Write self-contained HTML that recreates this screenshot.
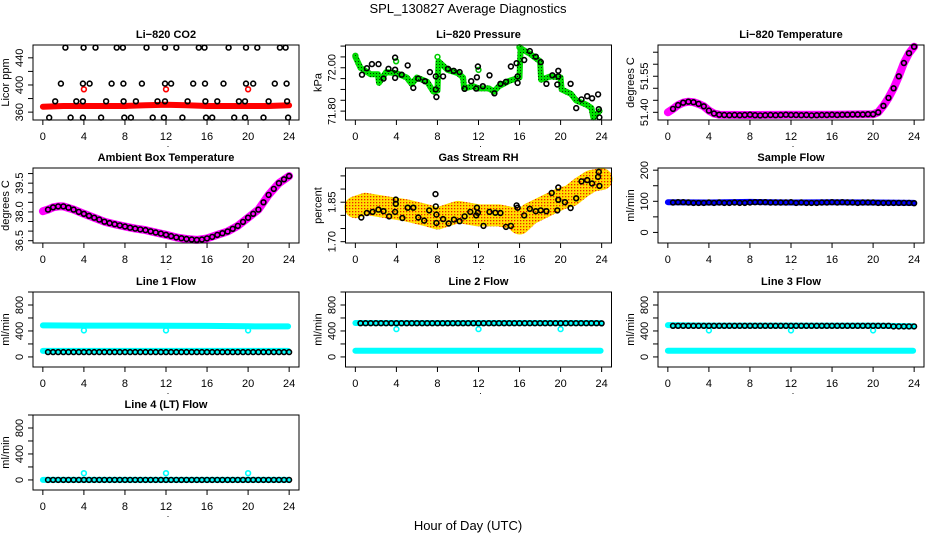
<!DOCTYPE html>
<html><head><meta charset="utf-8">
<style>
body{margin:0;background:#fff}
svg{display:block;font-family:"Liberation Sans",sans-serif}
.t{font-weight:bold;font-size:11px}
.tk{font-size:11px}
</style></head>
<body>
<svg id="chart" width="936" height="540" viewBox="0 0 936 540" xmlns="http://www.w3.org/2000/svg">
<defs>
<pattern id="gpat" width="3" height="3" patternUnits="userSpaceOnUse"><rect width="3" height="3" fill="#00e000"/><rect x="1" y="1" width="1" height="1" fill="#003300"/></pattern>
<pattern id="rhpat" width="3" height="3" patternUnits="userSpaceOnUse"><rect width="3" height="3" fill="#ffe000"/><rect x="1" y="1" width="1.3" height="1.3" fill="#ee2200"/></pattern>
</defs>
<text x="468" y="13" text-anchor="middle" font-size="13">SPL_130827  Average Diagnostics</text>
<text x="468" y="530" text-anchor="middle" font-size="13">Hour of Day (UTC)</text>
</svg>
<script>
// ---- data ----
const H48=[0.5,1,1.5,2,2.5,3,3.5,4,4.5,5,5.5,6,6.5,7,7.5,8,8.5,9,9.5,10,10.5,11,11.5,12,12.5,13,13.5,14,14.5,15,15.5,16,16.5,17,17.5,18,18.5,19,19.5,20,20.5,21,21.5,22,22.5,23,23.5,24];
const X_TICKS=[0,4,8,12,16,20,24];
// CO2
const CO2_LH=[0,2,4,6,8,10,12,14,16,18,20,22,24];
const CO2_LV=[368,369,369,369,369,370,371,370,369,369,369,369,370];
const CO2_BH=[2.2,3.97,5.13,7.2,7.8,10.1,11.9,13.0,15.2,15.75,18.1,19.8,20.9,23.1,23.65,1.76,3.9,4.56,6.7,7.85,9.65,11.9,12.5,14.65,15.8,17.6,19.8,20.5,22.6,23.75,1.2,3.26,3.9,6.16,7.87,9.07,11.17,11.9,14.1,15.84,17.0,19.1,19.7,22.0,23.8,0.62,2.7,3.9,5.68,7.94,8.58,10.7,11.8,13.6,15.9,16.5,18.65,19.7,21.5,23.9];
const CO2_BV=[455,455,455,455,455,455,455,455,455,455,455,455,455,455,455,402,402,402,402,402,402,402,402,402,402,402,402,402,402,402,376,376,376,376,376,376,376,376,376,376,376,376,376,376,376,352,352,352,352,352,352,352,352,352,352,352,352,352,352,352];
const CO2_OH=[4,12,20];
const CO2_OV=[393.7,393.7,393.7];
// Pressure
const PRES_GH=[0,0.5,1.5,2.2,2.3,3,4,5,5.5,6,7,7.6,8,8.1,9,10,10.5,10.6,11.5,12,13,13.5,14,15,16,16.1,17,18,18.1,19,20,20.1,21,21.5,22.5,23,23.2,23.8];
const PRES_GV=[72.05,72.0,71.97,71.97,71.93,71.98,71.975,71.955,71.925,71.955,71.935,71.89,71.895,72.03,71.99,71.975,71.955,71.905,71.915,71.905,71.905,71.89,71.915,71.94,71.955,72.09,72.065,72.03,71.945,71.96,71.955,71.9,71.88,71.85,71.83,71.815,71.77,71.80];
const PRES_BH=[0.65,1.13,1.61,2.26,2.74,3.23,3.87,3.87,3.87,4.52,5.1,5.65,6.13,6.78,7.26,7.84,7.9,7.84,8.55,9.03,9.58,10.16,10.65,11.29,11.78,11.84,11.94,12.42,13.07,13.55,14.13,14.68,15.16,15.71,15.81,15.81,16.45,17.0,17.58,18.07,18.62,19.2,19.78,19.68,19.78,20.97,21.52,22.04,22.59,23.07,23.65,23.72,23.78];
const PRES_BV=[71.968,71.998,72.017,72.017,71.95,71.995,71.991,72.047,71.953,71.968,72.011,71.907,71.95,71.938,71.98,71.96,71.865,71.9,71.96,71.995,71.986,71.98,71.903,71.938,71.904,71.956,72.006,71.915,71.965,71.882,71.926,71.935,72.006,72.021,71.93,71.96,72.036,72.077,72.051,72.026,71.926,71.965,71.986,71.923,71.96,71.926,71.814,71.854,71.869,71.859,71.877,71.809,71.771];
const PRES_OH=[0,3.97,8.0,12.0,16.0];
const PRES_OV=[72.055,72.03,72.05,71.99,72.095];
// Li-820 temperature
const TEMP_LH=[0,0.5,1,1.5,2,2.5,3,3.5,4,4.5,5,8,12,16,20,20.5,21,21.5,22,22.5,23,23.5,24];
const TEMP_LV=[51.40,51.414,51.43,51.44,51.444,51.442,51.435,51.425,51.407,51.395,51.39,51.389,51.39,51.39,51.392,51.40,51.427,51.46,51.50,51.55,51.605,51.646,51.673];
const TEMP_BV=[51.414,51.43,51.44,51.444,51.442,51.435,51.425,51.407,51.395,51.39,51.389,51.388,51.389,51.388,51.389,51.390,51.388,51.387,51.388,51.389,51.388,51.389,51.390,51.389,51.389,51.388,51.389,51.387,51.388,51.389,51.389,51.390,51.389,51.390,51.390,51.391,51.391,51.391,51.392,51.392,51.40,51.427,51.46,51.50,51.55,51.605,51.646,51.673];
// Ambient box
const AMB_LH=[0,0.5,1,1.5,2,3,4,5,6,7,8,9,10,11,12,13,14,15,16,17,18,19,20,21,22,23,24];
const AMB_LV=[38.04,38.12,38.24,38.29,38.29,38.12,37.9,37.7,37.49,37.36,37.24,37.13,37.05,36.93,36.81,36.67,36.59,36.54,36.62,36.8,36.98,37.27,37.7,38.12,38.89,39.5,39.87];
const AMB_BV=[38.12,38.24,38.29,38.29,38.22,38.12,38.0,37.9,37.8,37.7,37.6,37.49,37.42,37.36,37.3,37.24,37.18,37.13,37.09,37.05,36.99,36.93,36.87,36.81,36.74,36.67,36.63,36.59,36.56,36.54,36.56,36.62,36.70,36.80,36.89,36.98,37.12,37.27,37.48,37.7,37.9,38.12,38.5,38.89,39.2,39.5,39.7,39.87];
// Gas stream RH
const RH_LH=[0,1,3,5,7,8,10,12,14,15.5,16,17,18,19,20,21,22,23,24];
const RH_LV=[1.831,1.844,1.831,1.819,1.8,1.788,1.813,1.8,1.8,1.788,1.769,1.806,1.825,1.844,1.863,1.875,1.906,1.931,1.938];
const RH_BH=[0.58,1.13,1.68,2.26,2.74,3.29,3.87,3.94,3.94,4.58,5.1,5.65,6.13,6.71,7.2,7.81,7.84,7.9,7.9,8.55,9.1,9.61,10.16,10.65,11.2,11.78,11.84,11.94,12.49,13.07,13.65,14.13,14.68,15.16,15.71,15.81,16.45,17.0,17.58,18.07,18.62,19.13,19.68,19.78,19.78,20.42,20.97,21.52,22.04,22.59,23.07,23.65,23.72,23.78];
const RH_BV=[1.792,1.809,1.813,1.822,1.816,1.796,1.813,1.844,1.860,1.79,1.829,1.829,1.792,1.78,1.819,1.881,1.834,1.803,1.771,1.786,1.769,1.784,1.778,1.796,1.813,1.8,1.829,1.81,1.76,1.813,1.81,1.809,1.756,1.76,1.838,1.829,1.8,1.825,1.816,1.819,1.816,1.885,1.819,1.906,1.859,1.85,1.828,1.865,1.929,1.934,1.921,1.946,1.965,1.912];
// Sample flow
const SF_LH=[0,4,8,12,16,20,24];
const SF_LV=[97,96,98,96,97,96,95];
const SF_BV=[96,97,97,96,95,95,95,96,95,96,95,95,96,95,95,96,97,97,97,96,96,96,96,97,95,96,95,95,95,96,96,97,96,97,96,96,95,96,96,96,95,95,95,95,95,95,95,94];
// Line flows (cyan bands, outliers, black points)
const FLOW_LH=[0,4,8,12,16,20,23.9];
const L1_UP=[485,482,482,480,478,472,470];
const L1_LO=[93,93,93,93,93,93,93];
const L1_BV=[75,75,75,75,75,75,75,75,75,75,75,75,75,75,75,75,75,75,75,75,75,75,75,75,75,75,75,75,75,75,75,75,75,75,75,75,75,75,75,75,75,75,75,75,75,75,75,75];
const L2_UP=[522,522,522,522,522,522,522];
const L2_LO=[94,94,96,94,96,94,94];
const L2_BV=[520,520,520,520,520,520,520,520,520,520,520,520,520,520,520,520,520,520,520,520,520,520,520,520,520,520,520,520,520,520,520,520,520,520,520,520,520,520,520,520,520,520,520,520,520,520,520,518];
const L3_UP=[490,482,482,482,482,482,472];
const L3_LO=[94,94,96,94,96,94,94];
const L3_BV=[480,480,480,480,480,480,480,480,480,480,480,480,480,480,480,480,480,480,480,480,480,480,480,480,480,480,480,480,480,480,480,480,480,480,480,480,480,480,480,480,480,480,480,470,470,470,470,470];
const L4_UP=[0,0,0,0,0,0,0];
const L4_BV=[0,0,0,0,0,0,0,0,0,0,0,0,0,0,0,0,0,0,0,0,0,0,0,0,0,0,0,0,0,0,0,0,0,0,0,0,0,0,0,0,0,0,0,0,0,0,0,0];
const OUT_H=[4,12,20];
const L1_OV=[408,408,408];
const L2_OV=[429,429,429];
const L3_OV=[408,408,408];
const L4_OV=[104,104,104];

// ---- layout ----
const svg=document.getElementById('chart');
const NS='http://www.w3.org/2000/svg';
const COLS=[33,345.5,658], ROWS=[45,168,292,415], PW=266, PH=75;
function mk(tag,attrs,parent){const e=document.createElementNS(NS,tag);for(const k in attrs)e.setAttribute(k,attrs[k]);(parent||svg).appendChild(e);return e;}

function panel(cfg){
  const L=COLS[cfg.c],T=ROWS[cfg.r],R=L+PW,B=T+PH;
  const g=mk('g',{});
  
  
  const sx=v=>L+(v+0.96)/25.92*PW;
  const sy=v=>B-(v-cfg.dom[0])/(cfg.dom[1]-cfg.dom[0])*PH;
  const tt=mk('text',{x:L+PW/2,y:T-7,'text-anchor':'middle',class:'t'},g);
  tt.textContent=cfg.title;
  
  
  const xa=mk('g',{},g);
  
  
  mk('line',{x1:sx(0),x2:sx(24),y1:B,y2:B,stroke:'#000'},xa);
  X_TICKS.forEach(v=>{
    mk('line',{x1:sx(v),x2:sx(v),y1:B,y2:B+5,stroke:'#000'},xa);
    const t=mk('text',{x:sx(v),y:B+20,'text-anchor':'middle',class:'tk'},xa);
    t.textContent=v;
    
    
  });
  const dot=mk('text',{x:L+PW/2+2,y:B+27,'text-anchor':'middle','font-size':'9'},xa);
  dot.textContent='.';
  
  
  const ya=mk('g',{},g);
  
  
  cfg.ticks.forEach(v=>{mk('line',{x1:L-5,x2:L,y1:sy(v),y2:sy(v),stroke:'#000'},ya);});
  cfg.labels.forEach((v,i)=>{
    const x=L-10,y=sy(v);
    const t=mk('text',{x:x,y:y,'text-anchor':'middle',class:'tk',transform:`rotate(-90 ${x} ${y})`},ya);
    t.textContent=cfg.labelText[i];
    
    
  });
  const yl=mk('text',{x:L-24,y:T+PH/2,'text-anchor':'middle',class:'tk',transform:`rotate(-90 ${L-24} ${T+PH/2})`},g);
  yl.textContent=cfg.ylab;
  
  
  const plot=mk('g',{},g);
  
  
  cfg.draw(plot,sx,sy);
  const box=mk('rect',{x:L,y:T,width:PW,height:PH,fill:'none',stroke:'#000'},g);
  
  
}
function band(g,sx,sy,xs,ys,stroke,w,name){
  const p=mk('polyline',{points:xs.map((x,i)=>sx(x).toFixed(1)+','+sy(ys[i]).toFixed(1)).join(' '),fill:'none',stroke:stroke,'stroke-width':w,'stroke-linejoin':'round','stroke-linecap':'round'},g);
  
  
}
function pts(g,sx,sy,xs,ys,col,name,sw){
  const gg=mk('g',{},g);
  
  
  xs.forEach((x,i)=>{
    const c=mk('circle',{cx:sx(x).toFixed(1),cy:sy(ys[i]).toFixed(1),r:2.4,fill:'none',stroke:col,'stroke-width':sw||1.6},gg);
    
    
  });
}
const step=(a,b,s)=>{const o=[];for(let v=a;v<=b+1e-9;v+=s)o.push(+v.toFixed(3));return o;};

panel({c:0,r:0,name:'co2',title:'Li\u2212820 CO2',ylab:'Licor ppm',dom:[348.4,458.9],ticks:[360,380,400,420,440],labels:[360,400,440],labelText:['360','400','440'],
 draw:(g,sx,sy)=>{band(g,sx,sy,CO2_LH,CO2_LV,'#ff0000',6,'co2-red-series');pts(g,sx,sy,CO2_OH,CO2_OV,'#ff0000','co2-red-outliers');pts(g,sx,sy,CO2_BH,CO2_BV,'#000','co2-black-points');}});
panel({c:1,r:0,name:'pressure',title:'Li\u2212820 Pressure',ylab:'kPa',dom:[71.759,72.105],ticks:step(71.80,72.10,0.05),labels:[71.80,72.00],labelText:['71.80','72.00'],
 draw:(g,sx,sy)=>{band(g,sx,sy,PRES_GH,PRES_GV,'url(#gpat)',6,'pressure-green-series');pts(g,sx,sy,PRES_OH,PRES_OV,'#00cc00','pressure-green-outliers');pts(g,sx,sy,PRES_BH,PRES_BV,'#000','pressure-black-points');}});
panel({c:2,r:0,name:'li820-temp',title:'Li\u2212820 Temperature',ylab:'degrees C',dom:[51.368,51.68],ticks:step(51.40,51.65,0.05),labels:[51.40,51.55],labelText:['51.40','51.55'],
 draw:(g,sx,sy)=>{band(g,sx,sy,TEMP_LH,TEMP_LV,'#ff00ff',8,'temp-magenta-series');pts(g,sx,sy,H48,TEMP_BV,'#000','temp-black-points');}});
panel({c:0,r:1,name:'ambient-temp',title:'Ambient Box Temperature',ylab:'degrees C',dom:[36.38,40.29],ticks:step(36.5,40,0.5),labels:[36.5,38.0,39.5],labelText:['36.5','38.0','39.5'],
 draw:(g,sx,sy)=>{band(g,sx,sy,AMB_LH,AMB_LV,'#ff00ff',8,'ambient-magenta-series');pts(g,sx,sy,H48,AMB_BV,'#000','ambient-black-points');}});
panel({c:1,r:1,name:'rh',title:'Gas Stream RH',ylab:'percent',dom:[1.695,1.98],ticks:step(1.70,1.95,0.05),labels:[1.70,1.85],labelText:['1.70','1.85'],
 draw:(g,sx,sy)=>{band(g,sx,sy,RH_LH,RH_LV,'url(#rhpat)',22,'rh-orange-series');pts(g,sx,sy,RH_BH,RH_BV,'#000','rh-black-points');}});
panel({c:2,r:1,name:'sample-flow',title:'Sample Flow',ylab:'ml/min',dom:[-34,207],ticks:[0,50,100,150,200],labels:[0,100,200],labelText:['0','100','200'],
 draw:(g,sx,sy)=>{band(g,sx,sy,SF_LH,SF_LV,'#0000ff',6,'sample-blue-series');pts(g,sx,sy,H48,SF_BV,'#000','sample-black-points');}});
const FT=[0,200,400,600,800,1000];
panel({c:0,r:2,name:'line1-flow',title:'Line 1 Flow',ylab:'ml/min',dom:[-155,1000],ticks:FT,labels:[0,400,800],labelText:['0','400','800'],
 draw:(g,sx,sy)=>{band(g,sx,sy,FLOW_LH,L1_UP,'#00ffff',6,'line1-cyan-upper');band(g,sx,sy,FLOW_LH,L1_LO,'#00ffff',6,'line1-cyan-lower');pts(g,sx,sy,OUT_H,L1_OV,'#00ffff','line1-cyan-outliers');pts(g,sx,sy,H48,L1_BV,'#000','line1-black-points');}});
panel({c:1,r:2,name:'line2-flow',title:'Line 2 Flow',ylab:'ml/min',dom:[-155,1000],ticks:FT,labels:[0,400,800],labelText:['0','400','800'],
 draw:(g,sx,sy)=>{band(g,sx,sy,FLOW_LH,L2_UP,'#00ffff',6,'line2-cyan-upper');band(g,sx,sy,FLOW_LH,L2_LO,'#00ffff',6,'line2-cyan-lower');pts(g,sx,sy,OUT_H,L2_OV,'#00ffff','line2-cyan-outliers');pts(g,sx,sy,H48,L2_BV,'#000','line2-black-points');}});
panel({c:2,r:2,name:'line3-flow',title:'Line 3 Flow',ylab:'ml/min',dom:[-155,1000],ticks:FT,labels:[0,400,800],labelText:['0','400','800'],
 draw:(g,sx,sy)=>{band(g,sx,sy,FLOW_LH,L3_UP,'#00ffff',6,'line3-cyan-upper');band(g,sx,sy,FLOW_LH,L3_LO,'#00ffff',6,'line3-cyan-lower');pts(g,sx,sy,OUT_H,L3_OV,'#00ffff','line3-cyan-outliers');pts(g,sx,sy,H48,L3_BV,'#000','line3-black-points');}});
panel({c:0,r:3,name:'line4-flow',title:'Line 4 (LT) Flow',ylab:'ml/min',dom:[-155,1000],ticks:FT,labels:[0,400,800],labelText:['0','400','800'],
 draw:(g,sx,sy)=>{band(g,sx,sy,FLOW_LH,L4_UP,'#00ffff',6,'line4-cyan-series');pts(g,sx,sy,OUT_H,L4_OV,'#00ffff','line4-cyan-outliers');pts(g,sx,sy,H48,L4_BV,'#000','line4-black-points');}});
</script>
</body></html>
